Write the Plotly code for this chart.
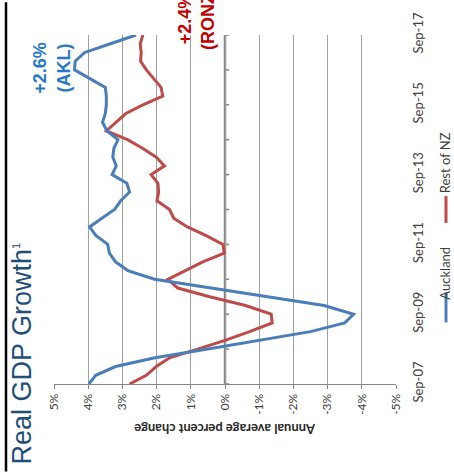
import plotly.graph_objects as go

# Quarterly periods, Sep-07 .. Sep-17
MONTHS = ["Sep", "Dec", "Mar", "Jun"]
QUARTERS = []
for i in range(41):
    m = MONTHS[i % 4]
    yr = 7 + (i + 1) // 4 if m != "Sep" and m != "Dec" else 7 + i // 4
    QUARTERS.append(f"{m}-{yr:02d}")

# Annual average real GDP growth, %
AUCKLAND = [3.98, 3.78, 3.20, 2.05, 0.50, -1.05, -2.50, -3.50, -3.76, -2.90,
            -1.20, 0.45, 2.06, 2.84, 3.20, 3.38, 3.43, 3.77, 3.96, 3.60,
            3.23, 3.05, 2.79, 2.87, 3.30, 3.18, 3.28, 3.25, 3.13, 3.45,
            3.58, 3.50, 3.47, 3.47, 3.50, 3.95, 4.40, 4.38, 4.10, 3.35, 2.60]
REST_OF_NZ = [2.79, 2.30, 2.01, 1.62, 0.80, 0.00, -0.72, -1.38, -1.35, -0.60,
              0.45, 1.38, 1.67, 1.16, 0.65, 0.02, 0.06, 0.55, 1.10, 1.50,
              1.62, 1.99, 1.94, 1.96, 2.16, 1.77, 2.01, 2.40, 2.85, 3.47,
              3.20, 2.90, 2.40, 1.82, 1.87, 2.08, 2.30, 2.47, 2.45, 2.48, 2.40]

PCT_VALS = [5, 4, 3, 2, 1, 0, -1, -2, -3, -4, -5]
PCT_LABELS = ["5%", "4%", "3%", "2%", "1%", "0%", "-1%", "-2%", "-3%", "-4%", "-5%"]
DATE_TICKS = ["Sep-07", "Sep-09", "Sep-11", "Sep-13", "Sep-15", "Sep-17"]
YEAR_TICKS = [q for q in QUARTERS if q.startswith("Sep")]

BLUE = "#4A7EBB"
RED = "#BE4B48"
GRID = "#A0A0A0"
AXIS = "#868686"
TEXT = "#404040"

W, H = 454, 472
L, R, T, B = 54, 58, 33, 88


def px(x):
    return (x - L) / (W - L - R)


def py(y):
    return (H - B - y) / (H - T - B)


fig = go.Figure()
fig.add_trace(go.Scatter(x=REST_OF_NZ, y=QUARTERS, mode="lines",
                         line=dict(color=RED, width=3), name="Rest of NZ"))
fig.add_trace(go.Scatter(x=AUCKLAND, y=QUARTERS, mode="lines",
                         line=dict(color=BLUE, width=3), name="Auckland"))

shapes = []
# category axis crossing at 0%
shapes.append(dict(type="line", xref="x", yref="y", x0=0, x1=0,
                   y0=QUARTERS[0], y1=QUARTERS[-1], layer="below",
                   line=dict(color=AXIS, width=2.5)))
for q in YEAR_TICKS:
    shapes.append(dict(type="line", xref="x", yref="y", x0=0, x1=-0.12,
                       y0=q, y1=q, layer="below",
                       line=dict(color=AXIS, width=1.5)))
# left border
shapes.append(dict(type="line", xref="paper", yref="paper",
                   x0=px(6), x1=px(6), y0=py(0), y1=py(H),
                   line=dict(color="black", width=2.5)))
# legend keys
shapes.append(dict(type="line", xref="paper", yref="paper",
                   x0=px(446), x1=px(446), y0=py(292), y1=py(322),
                   line=dict(color=BLUE, width=3)))
shapes.append(dict(type="line", xref="paper", yref="paper",
                   x0=px(446), x1=px(446), y0=py(195), y1=py(222),
                   line=dict(color=RED, width=3)))

annotations = [
    dict(text="Real GDP Growth<sup><span style='font-size:11px'>1</span></sup>",
         textangle=-90,
         xref="paper", yref="paper", x=px(22), y=py(467),
         xanchor="center", yanchor="bottom", showarrow=False,
         font=dict(family="Liberation Sans, Arial", size=27, color="#1F4E79")),
    dict(text="<b>+2.6%<br>(AKL)</b>", textangle=-90,
         xref="paper", yref="paper", x=px(52), y=py(66),
         xanchor="center", yanchor="middle", showarrow=False,
         font=dict(family="Liberation Sans, Arial", size=18, color="#2878C8")),
    dict(text="<b>+2.4%<br>(RONZ)</b>", textangle=-90,
         xref="paper", yref="paper", x=px(196), y=py(17),
         xanchor="center", yanchor="middle", showarrow=False,
         font=dict(family="Liberation Sans, Arial", size=18, color="#C00000")),
    dict(text="<b>Annual average percent change</b>", textangle=180,
         xref="paper", yref="paper", x=px(225), y=py(430),
         xanchor="center", yanchor="middle", showarrow=False,
         font=dict(family="Lato", size=13, color="#262626")),
    dict(text="Auckland", textangle=-90,
         xref="paper", yref="paper", x=px(445), y=py(273),
         xanchor="center", yanchor="middle", showarrow=False,
         font=dict(family="Lato", size=13, color=TEXT)),
    dict(text="Rest of NZ", textangle=-90,
         xref="paper", yref="paper", x=px(445), y=py(162),
         xanchor="center", yanchor="middle", showarrow=False,
         font=dict(family="Lato", size=13, color=TEXT)),
]

fig.update_layout(
    width=W, height=H,
    margin=dict(l=L, r=R, t=T, b=B),
    paper_bgcolor="white", plot_bgcolor="white",
    showlegend=False,
    shapes=shapes,
    annotations=annotations,
    xaxis=dict(range=[5, -5], tickvals=PCT_VALS, ticktext=PCT_LABELS,
               tickangle=-90, showgrid=True, gridcolor=GRID, gridwidth=1,
               zeroline=False, showline=True, linecolor=AXIS, linewidth=1,
               ticks="outside", ticklen=4, tickcolor=AXIS,
               tickfont=dict(family="Lato", size=12, color=TEXT)),
    yaxis=dict(type="category", categoryorder="array", categoryarray=QUARTERS,
               range=[0, 40], side="right", tickvals=DATE_TICKS,
               ticktext=DATE_TICKS, tickangle=-90, showgrid=False,
               zeroline=False, showline=False, ticks="",
               ticklabelstandoff=13,
               tickfont=dict(family="Lato", size=13, color=TEXT)),
)

fig.write_html("out.html")
